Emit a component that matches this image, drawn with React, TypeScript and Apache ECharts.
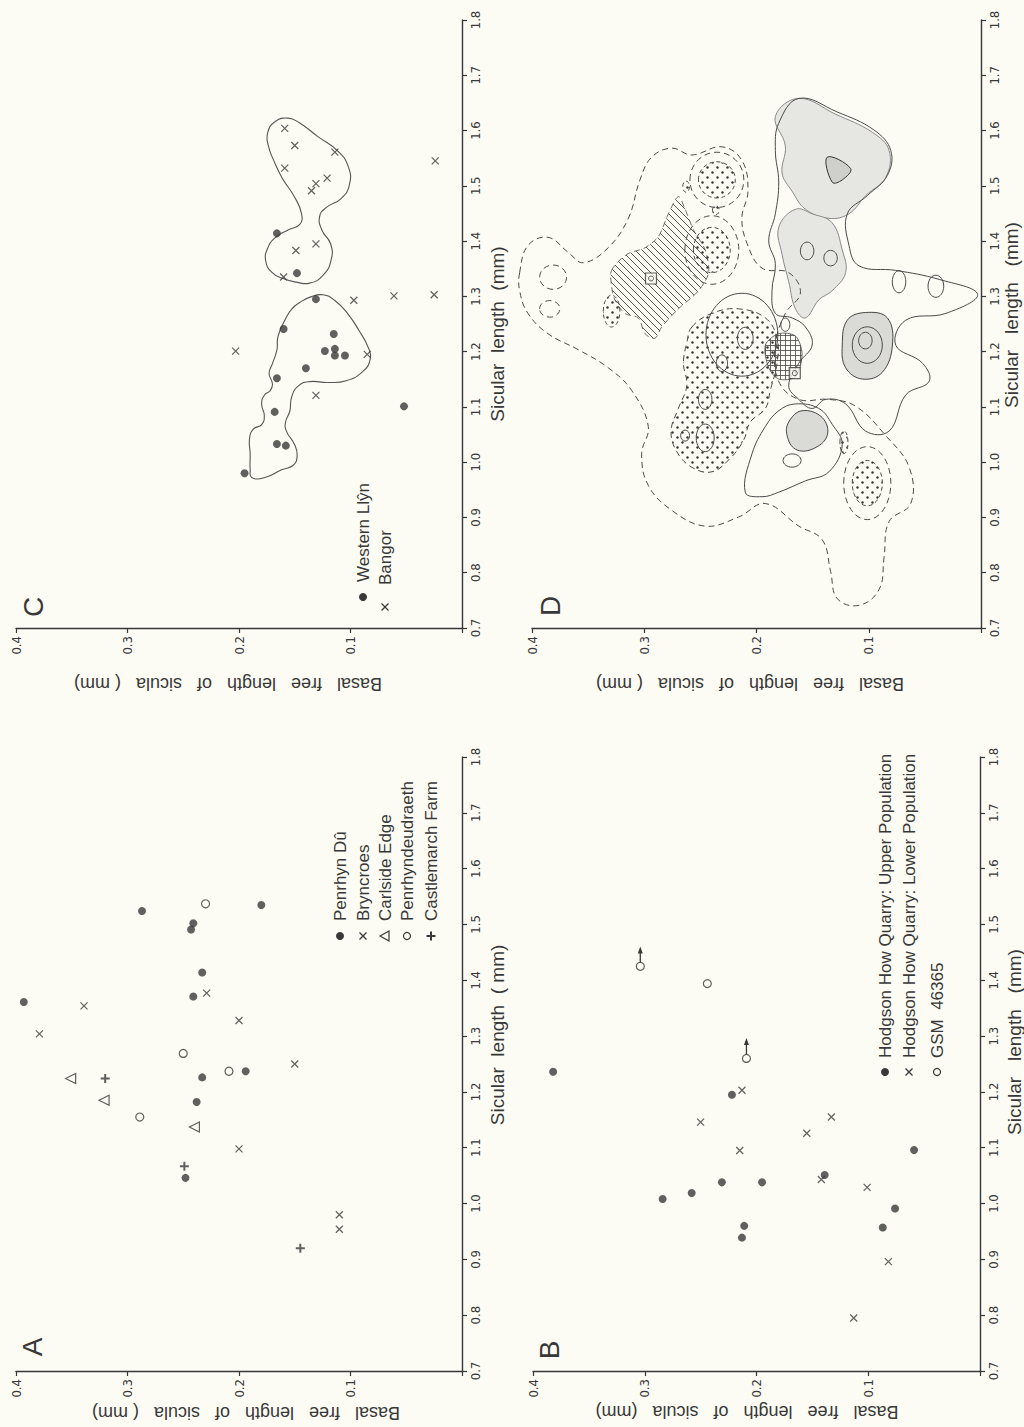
import React, { useEffect, useRef } from 'react';
import * as echarts from 'echarts';

// ---------- Panel A : [basal free length, sicular length] ----------
const A_PENRHYN_DU = [[0.393,1.361],[0.287,1.524],[0.241,1.502],[0.243,1.491],[0.180,1.535],[0.233,1.414],[0.241,1.371],[0.233,1.226],[0.194,1.237],[0.238,1.182],[0.248,1.046]];
const A_BRYNCROES = [[0.379,1.304],[0.339,1.354],[0.229,1.377],[0.200,1.328],[0.150,1.250],[0.200,1.098],[0.110,0.980],[0.110,0.954]];
const A_CARLSIDE = [[0.351,1.224],[0.321,1.185],[0.240,1.137]];
const A_PENRHYNDEUDRAETH = [[0.289,1.155],[0.250,1.269],[0.209,1.237],[0.230,1.537]];
const A_CASTLEMARCH = [[0.320,1.224],[0.249,1.067],[0.145,0.920]];
const A_LEGEND = ['Penrhyn Dû', 'Bryncroes', 'Carlside Edge', 'Penrhyndeudraeth', 'Castlemarch Farm'];

// ---------- Panel B ----------
const B_UPPER = [[0.382,1.236],[0.284,1.008],[0.258,1.019],[0.231,1.038],[0.195,1.038],[0.222,1.195],[0.211,0.960],[0.213,0.939],[0.139,1.051],[0.087,0.957],[0.076,0.991],[0.059,1.096]];
const B_LOWER = [[0.250,1.146],[0.213,1.203],[0.215,1.095],[0.155,1.126],[0.133,1.155],[0.142,1.043],[0.101,1.029],[0.082,0.896],[0.113,0.795]];
const B_GSM = [[0.304,1.425],[0.244,1.394],[0.209,1.260]];
const B_GSM_ARROWS = [[0.304,1.425,1.457],[0.209,1.260,1.293]];
const B_LEGEND = ['Hodgson How Quarry: Upper Population', 'Hodgson How Quarry: Lower Population', 'GSM  46365'];

// ---------- Panel C ----------
const C_WESTERN = [[0.195,0.980],[0.166,1.033],[0.158,1.030],[0.168,1.091],[0.166,1.152],[0.140,1.170],[0.160,1.241],[0.123,1.201],[0.115,1.232],[0.114,1.205],[0.114,1.193],[0.105,1.193],[0.131,1.295],[0.148,1.342],[0.166,1.414],[0.052,1.101]];
const C_BANGOR = [[0.203,1.201],[0.131,1.121],[0.085,1.195],[0.097,1.293],[0.061,1.301],[0.025,1.303],[0.160,1.335],[0.149,1.383],[0.131,1.395],[0.135,1.491],[0.131,1.504],[0.121,1.514],[0.159,1.532],[0.150,1.573],[0.159,1.604],[0.114,1.561],[0.024,1.545]];
const C_LEGEND = ['Western Llŷn', 'Bangor'];
const C_OUTLINE_LEFT = [[0.1886,0.9723],[0.1767,0.9723],[0.1618,0.9863],[0.1514,0.9944],[0.1479,1.0108],[0.1500,1.0312],[0.1574,1.0558],[0.1583,1.0721],[0.1544,1.0926],[0.1529,1.1171],[0.1470,1.1376],[0.1366,1.1457],[0.1203,1.1441],[0.1039,1.1474],[0.0891,1.1637],[0.0823,1.1866],[0.0840,1.2071],[0.0921,1.2373],[0.1024,1.2684],[0.1143,1.2930],[0.1247,1.3028],[0.1351,1.2995],[0.1455,1.2889],[0.1529,1.2766],[0.1580,1.2602],[0.1650,1.2275],[0.1660,1.2030],[0.1700,1.1784],[0.1730,1.1605],[0.1700,1.1416],[0.1720,1.1294],[0.1773,1.1212],[0.1797,1.1048],[0.1773,1.0844],[0.1797,1.0680],[0.1871,1.0599],[0.1905,1.0435],[0.1900,1.0149],[0.1900,0.9863]];
const C_OUTLINE_RIGHT = [[0.1743,1.5956],[0.1678,1.6160],[0.1559,1.6225],[0.1455,1.6135],[0.1292,1.5890],[0.1114,1.5628],[0.1019,1.5342],[0.1010,1.5015],[0.1084,1.4770],[0.1218,1.4606],[0.1277,1.4443],[0.1256,1.4197],[0.1179,1.3952],[0.1173,1.3666],[0.1247,1.3379],[0.1366,1.3240],[0.1485,1.3257],[0.1604,1.3322],[0.1707,1.3437],[0.1761,1.3649],[0.1743,1.3870],[0.1678,1.4058],[0.1565,1.4197],[0.1455,1.4303],[0.1440,1.4500],[0.1506,1.4811],[0.1612,1.5138],[0.1690,1.5465],[0.1737,1.5727]];

// ---------- Panel D (contour outlines, [basal, sicular]) ----------
const D_DASH_OUTER = [[0.4110,1.3429],[0.4036,1.3920],[0.3857,1.4068],[0.3678,1.3798],[0.3544,1.3609],[0.3321,1.3880],[0.3142,1.4412],[0.3038,1.5108],[0.2934,1.5518],[0.2755,1.5681],[0.2576,1.5558],[0.2308,1.5706],[0.2130,1.5460],[0.2076,1.4903],[0.2130,1.4428],[0.2085,1.3962],[0.1951,1.3511],[0.1713,1.3429],[0.1609,1.3061],[0.1743,1.2692],[0.1832,1.2119],[0.1802,1.1463],[0.1623,1.1136],[0.1355,1.1136],[0.1117,1.1013],[0.0849,1.0481],[0.0640,0.9908],[0.0626,0.9252],[0.0819,0.8925],[0.0864,0.8269],[0.0908,0.7696],[0.1087,0.7410],[0.1281,0.7532],[0.1340,0.8024],[0.1415,0.8597],[0.1623,0.8843],[0.1921,0.9252],[0.2160,0.9007],[0.2457,0.8843],[0.2755,0.9129],[0.2964,0.9580],[0.3023,1.0153],[0.2964,1.0645],[0.3113,1.1300],[0.3321,1.1709],[0.3589,1.2037],[0.3857,1.2323],[0.4036,1.2692],[0.4110,1.3101]];
const D_HATCH = [[0.3291,1.3470],[0.3157,1.3757],[0.2993,1.3880],[0.2874,1.4084],[0.2785,1.4494],[0.2696,1.4805],[0.2636,1.4576],[0.2562,1.4207],[0.2457,1.3839],[0.2427,1.3429],[0.2517,1.3102],[0.2696,1.2774],[0.2845,1.2446],[0.2904,1.2242],[0.2993,1.2324],[0.3053,1.2610],[0.3172,1.2692],[0.3262,1.2938],[0.3291,1.3184]];
const D_GRID_HATCH = [[0.1921,1.2119],[0.1802,1.2324],[0.1653,1.2282],[0.1594,1.1955],[0.1653,1.1545],[0.1802,1.1504],[0.1891,1.1709]];
const D_STIPPLE_MAIN = [[0.2576,1.2446],[0.2398,1.2692],[0.2160,1.2774],[0.1921,1.2610],[0.1817,1.2242],[0.1817,1.1791],[0.1877,1.1300],[0.1921,1.0972],[0.2055,1.0727],[0.2115,1.0399],[0.2234,1.0071],[0.2398,0.9826],[0.2576,0.9908],[0.2711,1.0194],[0.2761,1.0563],[0.2696,1.0972],[0.2621,1.1382],[0.2651,1.1791],[0.2621,1.2160]];
const D_SOLID_RIGHT = [[0.1623,1.6582],[0.1281,1.6336],[0.0953,1.6009],[0.0804,1.5640],[0.0834,1.5190],[0.1013,1.4822],[0.1191,1.4494],[0.1176,1.3920],[0.1087,1.3552],[0.0760,1.3470],[0.0372,1.3306],[0.0030,1.3036],[0.0313,1.2692],[0.0670,1.2569],[0.0760,1.2119],[0.0521,1.1791],[0.0462,1.1463],[0.0670,1.1218],[0.0819,1.0563],[0.1028,1.0563],[0.1206,1.1054],[0.1385,1.1136],[0.1504,1.0972],[0.1623,1.1136],[0.1713,1.1382],[0.1623,1.1791],[0.1504,1.2119],[0.1564,1.2446],[0.1683,1.2610],[0.1832,1.2692],[0.1862,1.3101],[0.1832,1.3593],[0.1891,1.4003],[0.1832,1.4494],[0.1802,1.5067],[0.1832,1.5640],[0.1802,1.6132]];
const D_SOLID_LOWER = [[0.2100,0.9457],[0.2040,1.0153],[0.1921,1.0645],[0.1802,1.0931],[0.1653,1.1054],[0.1445,1.0972],[0.1326,1.0686],[0.1236,1.0317],[0.1355,0.9826],[0.1564,0.9662],[0.1802,0.9457],[0.1951,0.9375]];
const D_GREY_UPPER = [[0.1832,1.6255],[0.1623,1.6582],[0.1296,1.6296],[0.0968,1.5968],[0.0819,1.5641],[0.0849,1.5149],[0.1028,1.4822],[0.1176,1.4494],[0.1355,1.4412],[0.1564,1.4576],[0.1683,1.4903],[0.1772,1.5231],[0.1743,1.5722]];
const D_GREY_LOWER = [[0.1802,1.4248],[0.1653,1.4576],[0.1504,1.4494],[0.1326,1.4330],[0.1236,1.3839],[0.1206,1.3429],[0.1326,1.3102],[0.1444,1.2938],[0.1564,1.2610],[0.1653,1.2774],[0.1713,1.3265],[0.1772,1.3757]];
const D_GREY_RING = [[0.1236,1.2119],[0.1191,1.2569],[0.1028,1.2708],[0.0834,1.2610],[0.0789,1.2119],[0.0879,1.1627],[0.1057,1.1504],[0.1206,1.1709]];
const D_GREY_SMALL = [[0.1713,1.0727],[0.1594,1.0931],[0.1415,1.0808],[0.1370,1.0481],[0.1504,1.0235],[0.1653,1.0235],[0.1727,1.0481]];
const D_INNER_TRI = [[0.1370,1.5518],[0.1162,1.5313],[0.1236,1.5108],[0.1326,1.5067]];
// ellipses: [basal centre, sicular centre, basal radius, sicular radius]
const D_STIPPLE_ELLIPSES = [[0.2353,1.5108,0.0164,0.0328],[0.2398,1.3839,0.0164,0.041],[0.1013,0.9621,0.0134,0.041],[0.3291,1.2733,0.0074,0.0287],[0.1221,1.0358,0.0036,0.0205],[0.2627,1.4985,0.003,0.010],[0.2362,1.4559,0.003,0.008]];
const D_DASH_ELLIPSES = [[0.2353,1.5108,0.024,0.050],[0.2398,1.3839,0.024,0.062],[0.1013,0.9621,0.021,0.066],[0.3812,1.3347,0.012,0.022],[0.3842,1.2774,0.009,0.015]];
const D_SOLID_ELLIPSES = [[0.2100,1.2241,0.007,0.02],[0.2308,1.1791,0.005,0.015],[0.2457,1.1136,0.006,0.018],[0.2457,1.0440,0.008,0.025],[0.2636,1.0481,0.004,0.010],[0.0730,1.3265,0.006,0.02],[0.0402,1.3183,0.007,0.02],[0.1743,1.2487,0.004,0.012],[0.1683,1.0030,0.008,0.012],[0.2130,1.2306,0.032,0.075],[0.1549,1.3822,0.006,0.016],[0.1340,1.3692,0.006,0.014],[0.1013,1.2119,0.0134,0.033],[0.1030,1.2200,0.006,0.015]];
const D_MARKERS = [[0.2940,1.3323],[0.1659,1.1611]];

// ---------- styling ----------
const INK = '#383838';
const BG = '#fcfcf4';
const TICK_FONT = "'DejaVu Sans Condensed','Liberation Sans Narrow','Liberation Sans',sans-serif";
const TEXT_FONT = "'Liberation Sans','DejaVu Sans',sans-serif";

function svgUrl(svg: string) {
  return 'data:image/svg+xml;base64,' + btoa(svg);
}
const STIPPLE = {
  image: svgUrl("<svg xmlns='http://www.w3.org/2000/svg' width='10' height='10'><circle cx='2.5' cy='2.5' r='1.2' fill='#333'/><circle cx='7.5' cy='7.5' r='1.2' fill='#333'/></svg>"),
  repeat: 'repeat', imageWidth: 10, imageHeight: 10,
};
const HATCH = {
  image: svgUrl("<svg xmlns='http://www.w3.org/2000/svg' width='7' height='7'><path d='M0,0L7,7M-1,6L1,8M6,-1L8,1' stroke='#444' stroke-width='0.9'/></svg>"),
  repeat: 'repeat', imageWidth: 7, imageHeight: 7,
};
const GRIDHATCH = {
  image: svgUrl("<svg xmlns='http://www.w3.org/2000/svg' width='5' height='5'><path d='M0,0.5L5,0.5M0.5,0L0.5,5' stroke='#444' stroke-width='0.8'/></svg>"),
  repeat: 'repeat', imageWidth: 5, imageHeight: 5,
};

const GRIDS = [
  { left: 16, top: 20, width: 446, height: 608 },  // C
  { left: 532, top: 20, width: 449, height: 608 }, // D
  { left: 16, top: 757, width: 446, height: 614 }, // A
  { left: 533, top: 757, width: 447, height: 614 },// B
];

function xAxisFor(i: number) {
  return {
    type: 'value', gridIndex: i, min: 0, max: 0.4, interval: 0.1, inverse: true, position: 'bottom',
    axisLine: { show: true, onZero: false, lineStyle: { color: INK, width: 1.4 } },
    axisTick: { show: true, inside: false, length: 5, lineStyle: { color: INK, width: 1.2 } },
    axisLabel: { rotate: 90, margin: 8, fontSize: 13, fontFamily: TICK_FONT, color: INK,
      formatter: (v: number) => (v === 0 ? '' : v.toFixed(1)) },
    splitLine: { show: false },
  };
}
function yAxisFor(i: number) {
  return {
    type: 'value', gridIndex: i, min: 0.7, max: 1.8, interval: 0.1, position: 'right',
    axisLine: { show: true, onZero: false, lineStyle: { color: INK, width: 1.4 } },
    axisTick: { show: true, inside: false, length: 5, lineStyle: { color: INK, width: 1.2 } },
    axisLabel: { rotate: 90, margin: 7, fontSize: 13, fontFamily: TICK_FONT, color: INK,
      formatter: (v: number) => v.toFixed(1) },
    splitLine: { show: false },
  };
}

const X_PATH = 'path://M0,0L10,10M10,0L0,10';
const PLUS_PATH = 'path://M5,0L5,10M0,5L10,5';

function dots(gi: number, data: number[][]) {
  return { type: 'scatter', xAxisIndex: gi, yAxisIndex: gi, data, symbol: 'circle', symbolSize: 8, itemStyle: { color: INK }, silent: true, z: 5 };
}
function crosses(gi: number, data: number[][]) {
  return { type: 'scatter', xAxisIndex: gi, yAxisIndex: gi, data, symbol: X_PATH, symbolSize: 7, itemStyle: { color: 'none', borderColor: INK, borderWidth: 1.2 }, silent: true, z: 5 };
}
function triangles(gi: number, data: number[][]) {
  return { type: 'scatter', xAxisIndex: gi, yAxisIndex: gi, data, symbol: 'triangle', symbolRotate: 90, symbolSize: 10, itemStyle: { color: 'none', borderColor: INK, borderWidth: 1.2 }, silent: true, z: 5 };
}
function rings(gi: number, data: number[][]) {
  return { type: 'scatter', xAxisIndex: gi, yAxisIndex: gi, data, symbol: 'circle', symbolSize: 8, itemStyle: { color: BG, borderColor: INK, borderWidth: 1.2 }, silent: true, z: 5 };
}
function pluses(gi: number, data: number[][]) {
  return { type: 'scatter', xAxisIndex: gi, yAxisIndex: gi, data, symbol: PLUS_PATH, symbolSize: 9, itemStyle: { color: 'none', borderColor: INK, borderWidth: 2 }, silent: true, z: 5 };
}

function polys(gi: number, shapes: number[][][], style: any, smooth = 0.4, z = 2) {
  return {
    type: 'custom', xAxisIndex: gi, yAxisIndex: gi, clip: false, silent: true, z,
    data: shapes.map((s) => s[0]),
    renderItem: (params: any, api: any) => ({
      type: 'polygon',
      shape: { points: shapes[params.dataIndex].map((p) => api.coord(p)), smooth },
      style,
    }),
  };
}
function ellipses(gi: number, list: number[][], style: any, z = 2) {
  return {
    type: 'custom', xAxisIndex: gi, yAxisIndex: gi, clip: false, silent: true, z,
    data: list.map((e) => [e[0], e[1]]),
    renderItem: (params: any, api: any) => {
      const e = list[params.dataIndex];
      const c = api.coord([e[0], e[1]]);
      const sz = api.size([e[2], e[3]], [e[0], e[1]]);
      return { type: 'ellipse', shape: { cx: c[0], cy: c[1], rx: sz[0], ry: sz[1] }, style };
    },
  };
}
function arrows(gi: number, data: number[][]) {
  return {
    type: 'custom', xAxisIndex: gi, yAxisIndex: gi, clip: false, silent: true, z: 6,
    data,
    renderItem: (params: any, api: any) => {
      const b = api.value(0), s0 = api.value(1), s1 = api.value(2);
      const p0 = api.coord([b, s0]);
      const p1 = api.coord([b, s1]);
      return {
        type: 'group',
        children: [
          { type: 'line', shape: { x1: p0[0], y1: p0[1] - 4, x2: p1[0], y2: p1[1] + 3 }, style: { stroke: INK, lineWidth: 1.3 } },
          { type: 'polygon', shape: { points: [[p1[0], p1[1] - 2], [p1[0] - 2.5, p1[1] + 5], [p1[0] + 2.5, p1[1] + 5]] }, style: { fill: INK } },
        ],
      };
    },
  };
}

// ---------- graphic helpers ----------
function text(x: number, y: number, t: string, size: number, rotation: number, align = 'center') {
  return { type: 'text', x, y, rotation, silent: true,
    style: { text: t, fill: INK, fontSize: size, fontFamily: TEXT_FONT, align, verticalAlign: 'middle' } };
}
function mDot(x: number, y: number) {
  return { type: 'circle', silent: true, shape: { cx: x, cy: y, r: 4 }, style: { fill: INK } };
}
function mCross(x: number, y: number) {
  const r = 3.5;
  return { type: 'group', silent: true, children: [
    { type: 'line', shape: { x1: x - r, y1: y - r, x2: x + r, y2: y + r }, style: { stroke: INK, lineWidth: 1.2 } },
    { type: 'line', shape: { x1: x - r, y1: y + r, x2: x + r, y2: y - r }, style: { stroke: INK, lineWidth: 1.2 } },
  ] };
}
function mTri(x: number, y: number) {
  return { type: 'polygon', silent: true, shape: { points: [[x - 5, y], [x + 4, y - 5], [x + 4, y + 5]] }, style: { fill: 'none', stroke: INK, lineWidth: 1.2 } };
}
function mRing(x: number, y: number) {
  return { type: 'circle', silent: true, shape: { cx: x, cy: y, r: 3.5 }, style: { fill: 'none', stroke: INK, lineWidth: 1.2 } };
}
function mPlus(x: number, y: number) {
  const r = 4.5;
  return { type: 'group', silent: true, children: [
    { type: 'line', shape: { x1: x - r, y1: y, x2: x + r, y2: y }, style: { stroke: INK, lineWidth: 2 } },
    { type: 'line', shape: { x1: x, y1: y - r, x2: x, y2: y + r }, style: { stroke: INK, lineWidth: 2 } },
  ] };
}

function buildOption() {
  const R = Math.PI / 2;
  const graphic: any[] = [];
  // panel letters
  graphic.push(text(33, 607, 'C', 28, R));
  graphic.push(text(550, 606, 'D', 28, R));
  graphic.push(text(32, 1347, 'A', 28, R));
  graphic.push(text(549, 1350, 'B', 28, R));
  // axis names
  const basal = 'Basal   free   length   of   sicula   ( mm)';
  graphic.push(text(228, 684, basal, 18, Math.PI));
  graphic.push(text(750, 684, basal, 18, Math.PI));
  graphic.push(text(246, 1413, basal, 18, Math.PI));
  graphic.push(text(747, 1412, 'Basal   free   length   of   sicula   (mm)', 18, Math.PI));
  graphic.push(text(497, 334, 'Sicular  length  (mm)', 19, R));
  graphic.push(text(1011, 315, 'Sicular   length   (mm)', 19, R));
  graphic.push(text(497, 1035, 'Sicular  length  ( mm)', 19, R));
  graphic.push(text(1014, 1042, 'Sicular   length   (mm)', 19, R));
  // legend C
  graphic.push(mDot(363, 597));
  graphic.push(text(363, 582, C_LEGEND[0], 17, R, 'left'));
  graphic.push(mCross(385, 607));
  graphic.push(text(385, 585, C_LEGEND[1], 17, R, 'left'));
  // legend A
  const ax = [340, 363, 385, 407, 431];
  const amarks = [mDot, mCross, mTri, mRing, mPlus];
  A_LEGEND.forEach((t, i) => {
    graphic.push(amarks[i](ax[i], 936));
    graphic.push(text(ax[i], 921, t, 17, R, 'left'));
  });
  // legend B
  const bx = [885, 909, 937];
  const bmarks = [mDot, mCross, mRing];
  B_LEGEND.forEach((t, i) => {
    graphic.push(bmarks[i](bx[i], 1072));
    graphic.push(text(bx[i], 1058, t, 17, R, 'left'));
  });

  const dash = { fill: 'none', stroke: '#4a4a4a', lineWidth: 1, lineDash: [6, 4] };
  const solid = { fill: 'none', stroke: '#4a4a4a', lineWidth: 1 };

  const series: any[] = [
    // Panel C
    polys(0, [C_OUTLINE_LEFT, C_OUTLINE_RIGHT], { fill: 'none', stroke: '#555', lineWidth: 1.1 }, 0.5),
    dots(0, C_WESTERN),
    crosses(0, C_BANGOR),
    // Panel D
    polys(1, [D_GREY_UPPER, D_GREY_LOWER], { fill: '#e6e6e2', stroke: '#8a8a8a', lineWidth: 1 }, 0.4, 1),
    polys(1, [D_GREY_RING, D_GREY_SMALL], { fill: '#dadad6', stroke: '#444', lineWidth: 1 }, 0.4, 1),
    polys(1, [D_STIPPLE_MAIN], { fill: STIPPLE, stroke: '#4a4a4a', lineWidth: 1, lineDash: [6, 4] }, 0.4, 1),
    ellipses(1, D_STIPPLE_ELLIPSES, { fill: STIPPLE, stroke: '#4a4a4a', lineWidth: 1, lineDash: [4, 3] }, 1),
    polys(1, [D_HATCH], { fill: HATCH, stroke: '#4a4a4a', lineWidth: 0.8, lineDash: [6, 4] }, 0.3, 1),
    polys(1, [D_GRID_HATCH], { fill: GRIDHATCH, stroke: '#4a4a4a', lineWidth: 0.8 }, 0.3, 1),
    polys(1, [D_DASH_OUTER], dash, 0.4),
    ellipses(1, D_DASH_ELLIPSES, dash),
    polys(1, [D_SOLID_RIGHT, D_SOLID_LOWER], solid, 0.4),
    polys(1, [D_INNER_TRI], { fill: '#cfcfcb', stroke: '#333', lineWidth: 1 }, 0.4),
    ellipses(1, D_SOLID_ELLIPSES, solid),
    { type: 'scatter', xAxisIndex: 1, yAxisIndex: 1, data: D_MARKERS, symbol: 'rect', symbolSize: 11, itemStyle: { color: BG, borderColor: INK, borderWidth: 1.2 }, silent: true, z: 5 },
    { type: 'scatter', xAxisIndex: 1, yAxisIndex: 1, data: D_MARKERS, symbol: 'circle', symbolSize: 5, itemStyle: { color: 'none', borderColor: INK, borderWidth: 1 }, silent: true, z: 6 },
    // Panel A
    dots(2, A_PENRHYN_DU),
    crosses(2, A_BRYNCROES),
    triangles(2, A_CARLSIDE),
    rings(2, A_PENRHYNDEUDRAETH),
    pluses(2, A_CASTLEMARCH),
    // Panel B
    dots(3, B_UPPER),
    crosses(3, B_LOWER),
    arrows(3, B_GSM_ARROWS),
    rings(3, B_GSM),
  ];

  return {
    animation: false,
    backgroundColor: BG,
    grid: GRIDS.map((g) => ({ ...g, containLabel: false, outerBoundsMode: 'none' })),
    xAxis: [0, 1, 2, 3].map(xAxisFor),
    yAxis: [0, 1, 2, 3].map(yAxisFor),
    series,
    graphic,
  };
}

export default function App() {
  const ref = useRef<HTMLDivElement>(null);
  useEffect(() => {
    const chart = echarts.init(ref.current as HTMLDivElement, null, { renderer: 'svg' });
    chart.setOption(buildOption() as any);
    return () => chart.dispose();
  }, []);
  return (
    <div
      ref={ref}
      style={{ position: 'fixed', left: 0, top: 0, width: 1024, height: 1427, background: BG }}
    />
  );
}
